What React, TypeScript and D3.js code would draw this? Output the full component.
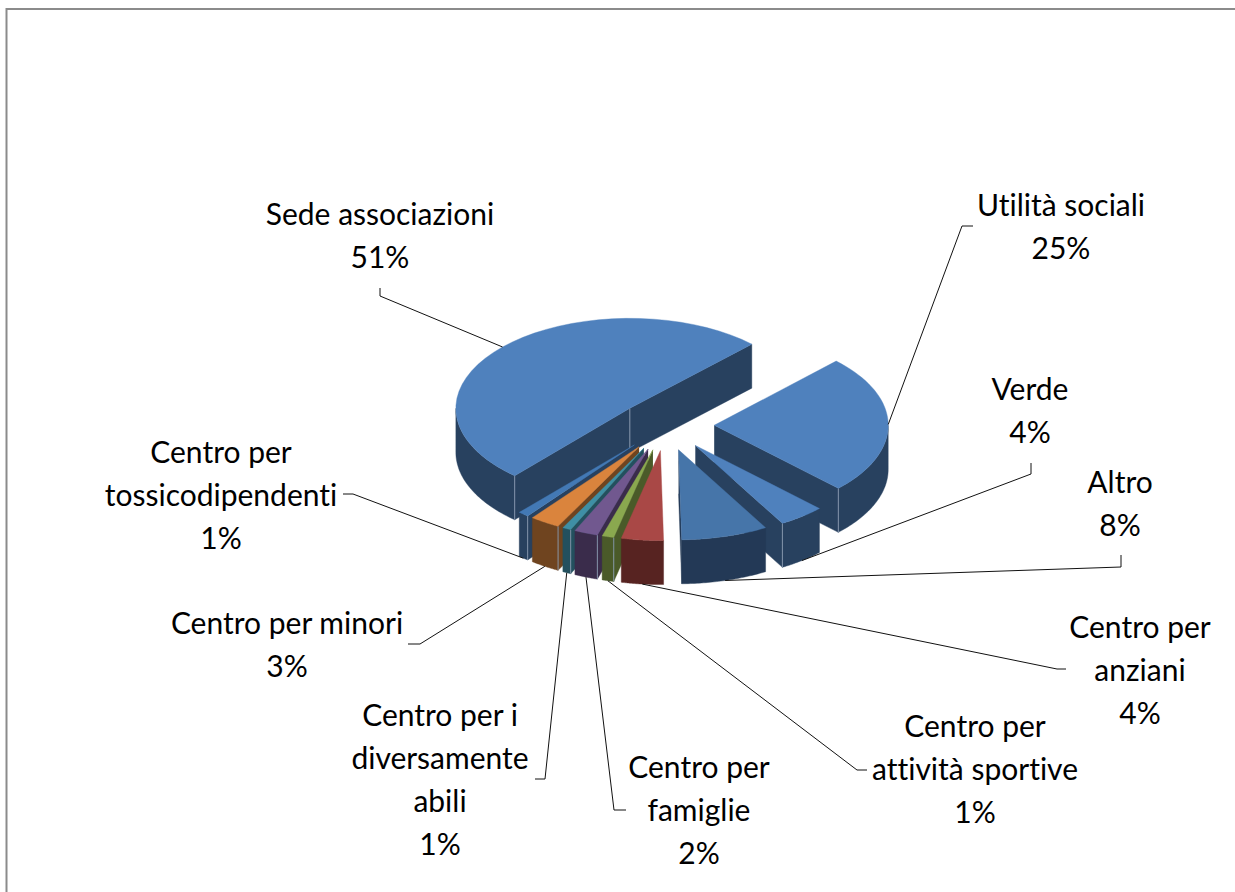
import React from "react";
import * as d3 from "d3";

// clockwise from the Utilità slice, percent values
const categories = [
  ["Utilità sociali"],
  ["Verde"],
  ["Altro"],
  ["Centro per", "anziani"],
  ["Centro per", "attività sportive"],
  ["Centro per", "famiglie"],
  ["Centro per i", "diversamente", "abili"],
  ["Centro per minori"],
  ["Centro per", "tossicodipendenti"],
  ["Sede associazioni"],
];
const values = [25, 4.3, 8.05, 3.9, 1.1, 2.2, 0.8, 2.8, 1, 50.85];
const percentLabels = ["25%", "4%", "8%", "4%", "1%", "2%", "1%", "3%", "1%", "51%"];

const topColors = ["#4f81bd", "#4f81bd", "#4675a9", "#a94846", "#8aa84f", "#71588f", "#3f8fa5", "#da843d", "#4379b5", "#4f81bd"];
const sideColors = ["#28415f", "#28415f", "#233956", "#572321", "#4a5a29", "#3a2c4b", "#23505e", "#6f441f", "#28415f", "#28415f"];

// label layout: text centre, first baseline, leader start and elbow
const labelLayout = [
  { x: 1061, y: 216, from: [973, 226], elbow: [962, 226] },
  { x: 1030, y: 400, from: [1031, 463], elbow: [1031, 474] },
  { x: 1120, y: 493, from: [1121, 555], elbow: [1121, 567] },
  { x: 1140, y: 638, from: [1066, 669], elbow: [1057, 669] },
  { x: 975, y: 737, from: [867, 770], elbow: [857, 770] },
  { x: 699, y: 778, from: [626, 810], elbow: [614, 810] },
  { x: 440, y: 726, from: [535, 779], elbow: [545, 779] },
  { x: 287, y: 634, from: [408, 644], elbow: [420, 644] },
  { x: 221, y: 463, from: [343, 494], elbow: [353, 494] },
  { x: 380, y: 225, from: [380, 288], elbow: [380, 296] },
];

const width = 1235;
const height = 892;
const cx = 665.5;
const cy = 425.5;
const rx = 174;
const ry = 90;
const depth = 44;
const explode = 0.28;
const lineHeight = 43;
const startDeg = 44.5;

const pie = d3.pie<number>().sort(null)
  .startAngle((startDeg * Math.PI) / 180)
  .endAngle((startDeg * Math.PI) / 180 + 2 * Math.PI);
const arcs = pie(values);

const sx = d3.scaleLinear().domain([-1, 1]).range([-rx, rx]);
const sy = d3.scaleLinear().domain([-1, 1]).range([-ry, ry]);
const line = d3.line();

type P = [number, number];

function makeSlice(a: d3.PieArcDatum<number>, i: number) {
  const mid = (a.startAngle + a.endAngle) / 2;
  const apex: P = [cx + explode * sx(Math.sin(mid)), cy + explode * sy(-Math.cos(mid))];
  const rim = (t: number, down = 0): P => [apex[0] + sx(Math.sin(t)), apex[1] + sy(-Math.cos(t)) + down];
  const sample = (t0: number, t1: number) =>
    d3.range(0, 41).map((k) => t0 + ((t1 - t0) * k) / 40);
  const wall = (t: number) => {
    const c = rim(t);
    return line([apex, c, [c[0], c[1] + depth], [apex[0], apex[1] + depth]]);
  };
  const startOn = Math.sin(a.startAngle) < 0;
  const endOn = Math.sin(a.endAngle) > 0;
  // front part of the rim only, the back of it is hidden by the top face
  const frontFrom = Math.max(a.startAngle, Math.PI / 2);
  const frontTo = Math.min(a.endAngle, (3 * Math.PI) / 2);
  const front = frontTo > frontFrom ? sample(frontFrom, frontTo) : [];
  const seams: P[] = [];
  if (startOn && front.length) seams.push(rim(a.startAngle));
  if (endOn && Math.sin(a.endAngle) > 0.1 && a.endAngle < (3 * Math.PI) / 2) seams.push(rim(a.endAngle));
  if (startOn && endOn) seams.push(apex);
  return {
    i,
    mid,
    top: line([apex, ...sample(a.startAngle, a.endAngle).map((t) => rim(t))]) + "Z",
    walls: [startOn ? wall(a.startAngle) : null, endOn ? wall(a.endAngle) : null].filter(Boolean) as string[],
    outer: front.length
      ? line([...front.map((t) => rim(t)), ...front.slice().reverse().map((t) => rim(t, depth))]) + "Z"
      : null,
    seams,
    // leaders end on the middle of the slice's outer edge
    anchor: rim(mid, Math.cos(mid) < 0.01 && Math.sin(mid) < 0.999 ? depth : 0),
  };
}

const slices = arcs.map((a) => makeSlice(a, values.indexOf(a.data)));
const paintOrder = slices.slice().sort((p, q) => Math.cos(q.mid) - Math.cos(p.mid));

export default function App() {
  return (
    <svg width={width} height={height} style={{ position: "absolute", left: 0, top: 0, background: "#fff" }}>
      <path d={`M6.5,${height}V9H${width}`} fill="none" stroke="#8b8b8b" strokeWidth={2} />

      {paintOrder.map((s) => (
        <g key={s.i}>
          {s.walls.map((d, k) => (
            <path key={k} d={d} fill={sideColors[s.i]} stroke={sideColors[s.i]} strokeWidth={0.4} />
          ))}
          {s.outer && <path d={s.outer} fill={sideColors[s.i]} stroke={sideColors[s.i]} strokeWidth={0.4} />}
          {s.seams.map((p, k) => (
            <line key={k} x1={p[0]} y1={p[1]} x2={p[0]} y2={p[1] + depth} stroke="#8b9cb2" strokeWidth={0.9} />
          ))}
          <path d={s.top} fill={topColors[s.i]} stroke={topColors[s.i]} strokeWidth={0.4} />
        </g>
      ))}

      {slices.map((s) => {
        const l = labelLayout[s.i];
        return (
          <path
            key={s.i}
            d={line([l.from as P, l.elbow as P, s.anchor]) as string}
            fill="none"
            stroke="#111"
            strokeWidth={1}
          />
        );
      })}

      {categories.map((lines, i) => {
        const l = labelLayout[i];
        return (
          <text
            key={i}
            textAnchor="middle"
            fontFamily="Lato"
            fontSize={30}
            fill="#000"
            style={{ fontVariantLigatures: "none" }}
          >
            {[...lines, percentLabels[i]].map((t, k) => (
              <tspan key={k} x={l.x} y={l.y + k * lineHeight}>
                {t}
              </tspan>
            ))}
          </text>
        );
      })}
    </svg>
  );
}
